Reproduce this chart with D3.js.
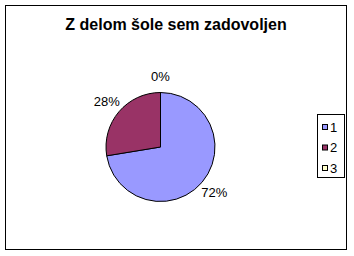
<!DOCTYPE html>
<html>
<head>
<meta charset="utf-8">
<script src="https://cdn.jsdelivr.net/npm/d3@7"></script>
<style>
  body { margin: 0; background: #fff; }
  text { font-family: Arial, "Liberation Sans", sans-serif; }
</style>
</head>
<body>
<div class="chart"></div>
<script>
// Chart data
var title = "Z delom šole sem zadovoljen";
var categories = ["1", "2", "3"];
var counts = [21, 8, 0];
var colors = ["#9999ff", "#993366", "#ffffcc"];

var svgWidth = 354;
var svgHeight = 256;

var svg = d3.select(".chart")
  .append("svg")
  .attr("width", svgWidth)
  .attr("height", svgHeight);

// Outer frame
svg.append("rect")
  .attr("x", 5.5)
  .attr("y", 5.5)
  .attr("width", 341)
  .attr("height", 244)
  .attr("fill", "white")
  .attr("stroke", "black")
  .attr("stroke-width", 1);

svg.append("text")
  .attr("x", 176)
  .attr("y", 30)
  .attr("text-anchor", "middle")
  .attr("font-size", "16px")
  .attr("font-weight", "bold")
  .text(title);

// Pie
var cx = 160.5, cy = 147, radius = 54.5;
var total = d3.sum(counts);

var pie = d3.pie().sort(null).value(function(d) { return d; });
var arc = d3.arc().innerRadius(0).outerRadius(radius);
var arcs = pie(counts);

var chart = svg.append("g")
  .attr("transform", "translate(" + cx + "," + cy + ")");

chart.selectAll("path")
  .data(arcs)
  .enter().append("path")
  .attr("d", arc)
  .attr("fill", function(d, i) { return colors[i]; })
  .attr("stroke", "black")
  .attr("stroke-width", 1);

// Percentage labels outside the slices
var labelArc = d3.arc().innerRadius(radius + 16).outerRadius(radius + 16);
chart.selectAll(".pct")
  .data(arcs)
  .enter().append("text")
  .attr("class", "pct")
  .attr("x", function(d) { return labelArc.centroid(d)[0]; })
  .attr("y", function(d) { return labelArc.centroid(d)[1]; })
  .attr("dy", "0.35em")
  .attr("text-anchor", "middle")
  .attr("font-size", "13px")
  .text(function(d) { return Math.round(d.data / total * 100) + "%"; });

// Legend
var legend = svg.append("g");
legend.append("rect")
  .attr("x", 317.5)
  .attr("y", 114.5)
  .attr("width", 27)
  .attr("height", 63)
  .attr("fill", "white")
  .attr("stroke", "black");

var item = legend.selectAll(".item")
  .data(categories)
  .enter().append("g")
  .attr("class", "item")
  .attr("transform", function(d, i) { return "translate(322," + (127 + i * 20.5) + ")"; });

item.append("rect")
  .attr("x", 0.5)
  .attr("y", -2.5)
  .attr("width", 5)
  .attr("height", 5)
  .attr("fill", function(d, i) { return colors[i]; })
  .attr("stroke", "black");

item.append("text")
  .attr("x", 8)
  .attr("y", 0)
  .attr("dy", "0.35em")
  .attr("font-size", "13px")
  .text(function(d) { return d; });
</script>
</body>
</html>
